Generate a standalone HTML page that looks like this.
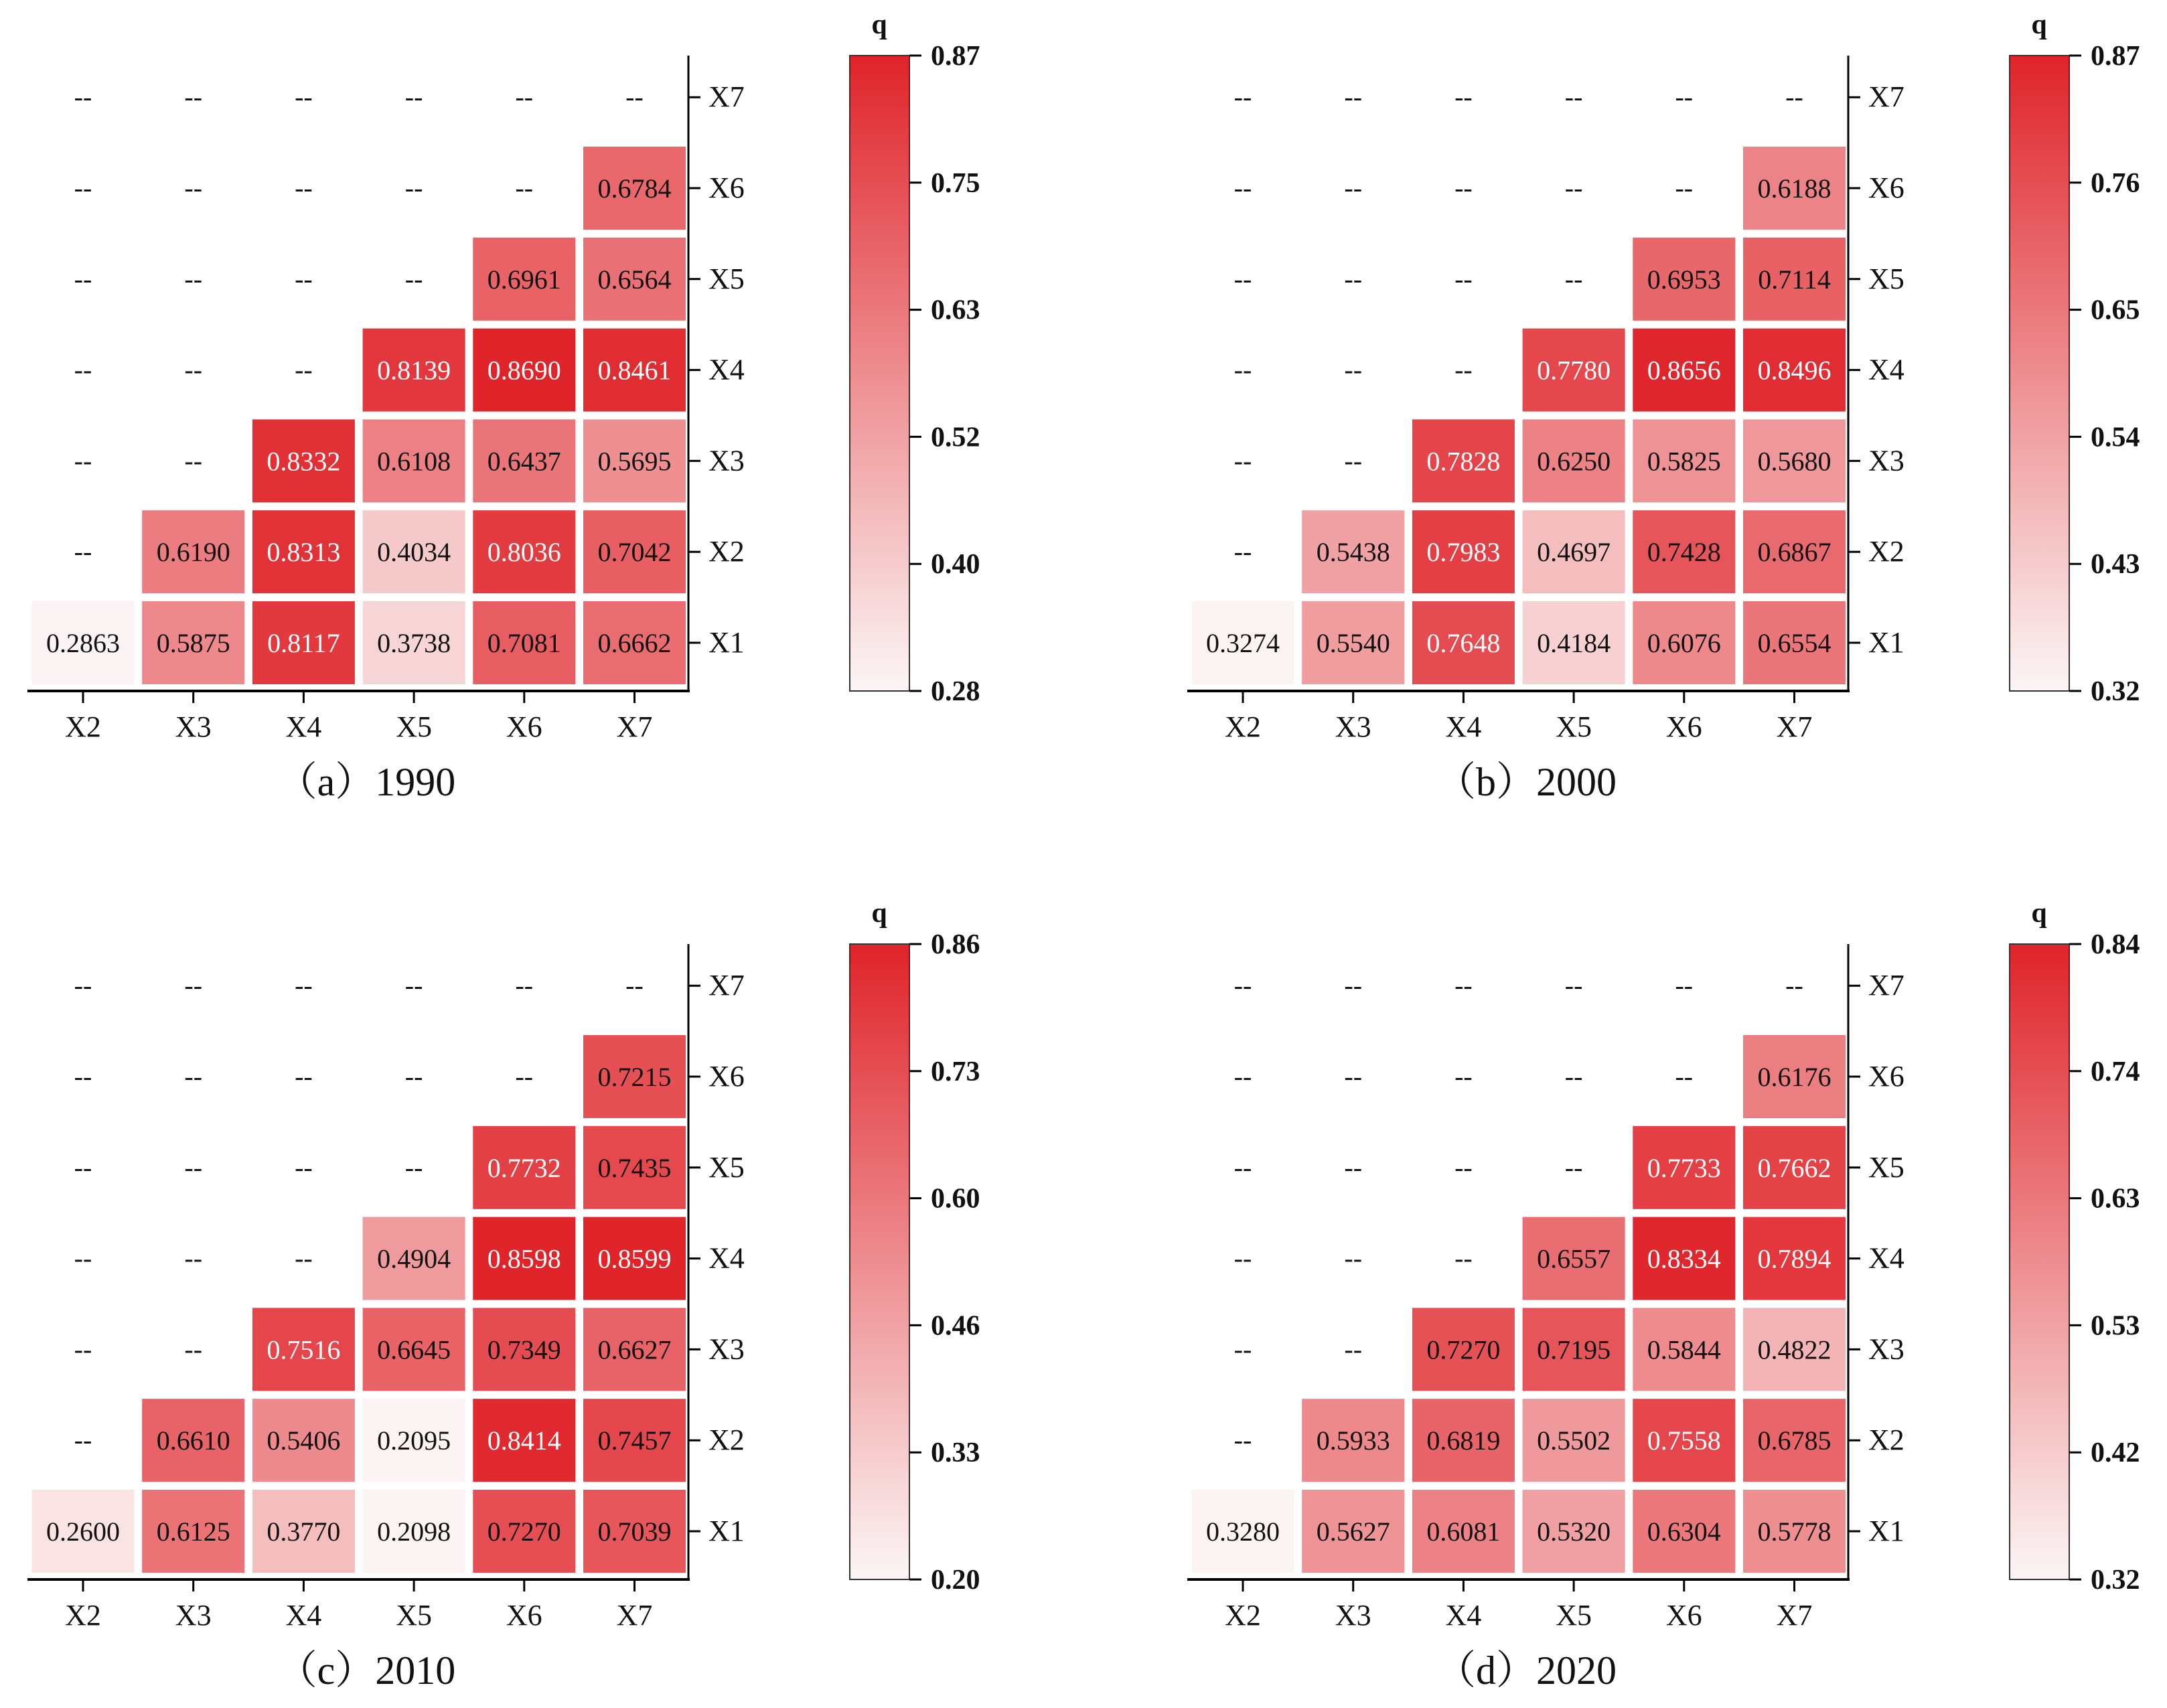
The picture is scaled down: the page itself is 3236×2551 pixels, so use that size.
<!DOCTYPE html>
<html><head><meta charset="utf-8">
<style>
html,body{margin:0;padding:0;background:#fff;}
svg{display:block;font-family:"Liberation Serif","Noto Serif CJK SC",serif;}
</style></head>
<body>
<svg id="fig" width="3236" height="2551" viewBox="0 0 3236 2551" xmlns="http://www.w3.org/2000/svg">
<rect width="3236" height="2551" fill="#fff"/>
</svg>
<script>
// ---- data ----
const colLabels = ["X2","X3","X4","X5","X6","X7"];
const rowLabels = ["X1","X2","X3","X4","X5","X6","X7"];
const panelCaptions = ["（a）1990","（b）2000","（c）2010","（d）2020"];
// values[row X1..X6][col X2..X7]; null = "--"
const values1990 = [
 [0.2863,0.5875,0.8117,0.3738,0.7081,0.6662],
 [null,0.6190,0.8313,0.4034,0.8036,0.7042],
 [null,null,0.8332,0.6108,0.6437,0.5695],
 [null,null,null,0.8139,0.8690,0.8461],
 [null,null,null,null,0.6961,0.6564],
 [null,null,null,null,null,0.6784]
];
const values2000 = [
 [0.3274,0.5540,0.7648,0.4184,0.6076,0.6554],
 [null,0.5438,0.7983,0.4697,0.7428,0.6867],
 [null,null,0.7828,0.6250,0.5825,0.5680],
 [null,null,null,0.7780,0.8656,0.8496],
 [null,null,null,null,0.6953,0.7114],
 [null,null,null,null,null,0.6188]
];
const values2010 = [
 [0.2600,0.6125,0.3770,0.2098,0.7270,0.7039],
 [null,0.6610,0.5406,0.2095,0.8414,0.7457],
 [null,null,0.7516,0.6645,0.7349,0.6627],
 [null,null,null,0.4904,0.8598,0.8599],
 [null,null,null,null,0.7732,0.7435],
 [null,null,null,null,null,0.7215]
];
const values2020 = [
 [0.3280,0.5627,0.6081,0.5320,0.6304,0.5778],
 [null,0.5933,0.6819,0.5502,0.7558,0.6785],
 [null,null,0.7270,0.7195,0.5844,0.4822],
 [null,null,null,0.6557,0.8334,0.7894],
 [null,null,null,null,0.7733,0.7662],
 [null,null,null,null,null,0.6176]
];
const colorMins = [0.28,0.32,0.20,0.32];
const colorMaxs = [0.87,0.87,0.86,0.84];
const ticks1990 = ["0.28","0.40","0.52","0.63","0.75","0.87"];
const ticks2000 = ["0.32","0.43","0.54","0.65","0.76","0.87"];
const ticks2010 = ["0.20","0.33","0.46","0.60","0.73","0.86"];
const ticks2020 = ["0.32","0.42","0.53","0.63","0.74","0.84"];

const allValues=[values1990,values2000,values2010,values2020];
const allTicks=[ticks1990,ticks2000,ticks2010,ticks2020];
const offsets=[[0,0],[1732,0],[0,1327],[1732,1327]];

const NS="http://www.w3.org/2000/svg";
const svg=document.getElementById('fig');
function mk(tag,attrs,parent,text){
  const e=document.createElementNS(NS,tag);
  for(const k in attrs) e.setAttribute(k,attrs[k]);
  if(text!==undefined) e.textContent=text;
  parent.appendChild(e); return e;
}
const lo=[252,246,246], hi=[223,36,42];
function color(t){
  t=Math.max(0,Math.min(1,t));
  const c=lo.map((v,i)=>Math.round(v+(hi[i]-v)*t));
  return `rgb(${c[0]},${c[1]},${c[2]})`;
}
const x0=124, xStep=164.7, yBase=960, yStep=135.8, cw=153, ch=124;
const xScale=i=>x0+xStep*i;
const yScale=j=>yBase-yStep*j;
const barTop=83, barBot=1032;

for(let p=0;p<4;p++){
  const [ox,oy]=offsets[p];
  const g=mk('g',{transform:`translate(${ox},${oy})`},svg);
  
  
  const vals=allValues[p], vmin=colorMins[p], vmax=colorMaxs[p];
  const norm=v=>(v-vmin)/(vmax-vmin);
  for(let r=0;r<7;r++){
    for(let c=0;c<6;c++){
      const v = r<6 ? vals[r][c] : null;
      const cx=xScale(c), cy=yScale(r);
      if(v===null){
        const t=mk('text',{x:cx,y:cy+13,'text-anchor':'middle','font-size':40,fill:'#111'},g,'--');
        
        
      } else {
        const rc=mk('rect',{x:cx-cw/2,y:cy-ch/2,width:cw,height:ch,fill:color(norm(v))},g);
        
        
        const t=mk('text',{x:cx,y:cy+14,'text-anchor':'middle','font-size':40,fill:v>0.75?'#fff':'#111'},g,v.toFixed(4));
        
        
      }
    }
  }
  const xa=mk('line',{x1:41,y1:1032,x2:1030,y2:1032,stroke:'#000','stroke-width':4},g);
  
  
  const ya=mk('line',{x1:1028,y1:83,x2:1028,y2:1034,stroke:'#000','stroke-width':3},g);
  
  
  colLabels.forEach((l,i)=>{
    mk('line',{x1:xScale(i),y1:1032,x2:xScale(i),y2:1050,stroke:'#000','stroke-width':3},g);
    const t=mk('text',{x:xScale(i),y:1100,'text-anchor':'middle','font-size':44,fill:'#111'},g,l);
    
    
  });
  rowLabels.forEach((l,j)=>{
    mk('line',{x1:1028,y1:yScale(j),x2:1046,y2:yScale(j),stroke:'#000','stroke-width':3},g);
    const t=mk('text',{x:1058,y:yScale(j)+14,'text-anchor':'start','font-size':44,fill:'#111'},g,l);
    
    
  });
  const cap=mk('text',{x:547,y:1188,'text-anchor':'middle','font-size':60,fill:'#111'},g,panelCaptions[p]);
  
  
  const gid='grad'+p;
  const defs=mk('defs',{},g);
  const lg=mk('linearGradient',{id:gid,x1:0,y1:1,x2:0,y2:0},defs);
  mk('stop',{offset:'0%','stop-color':color(0)},lg);
  mk('stop',{offset:'100%','stop-color':color(1)},lg);
  const cb=mk('rect',{x:1269,y:barTop,width:89,height:barBot-barTop,fill:`url(#${gid})`,stroke:'#333','stroke-width':2},g);
  
  
  const tk=allTicks[p];
  tk.forEach((l,i)=>{
    const y=barBot-(barBot-barTop)*i/(tk.length-1);
    mk('line',{x1:1358,y1:y,x2:1376,y2:y,stroke:'#000','stroke-width':3},g);
    const t=mk('text',{x:1390,y:y+14,'font-size':42,'font-weight':'bold',fill:'#111'},g,l);
    
    
  });
  const q=mk('text',{x:1313,y:50,'text-anchor':'middle','font-size':42,'font-weight':'bold',fill:'#111'},g,'q');
  
  
}
</script>
</body></html>
